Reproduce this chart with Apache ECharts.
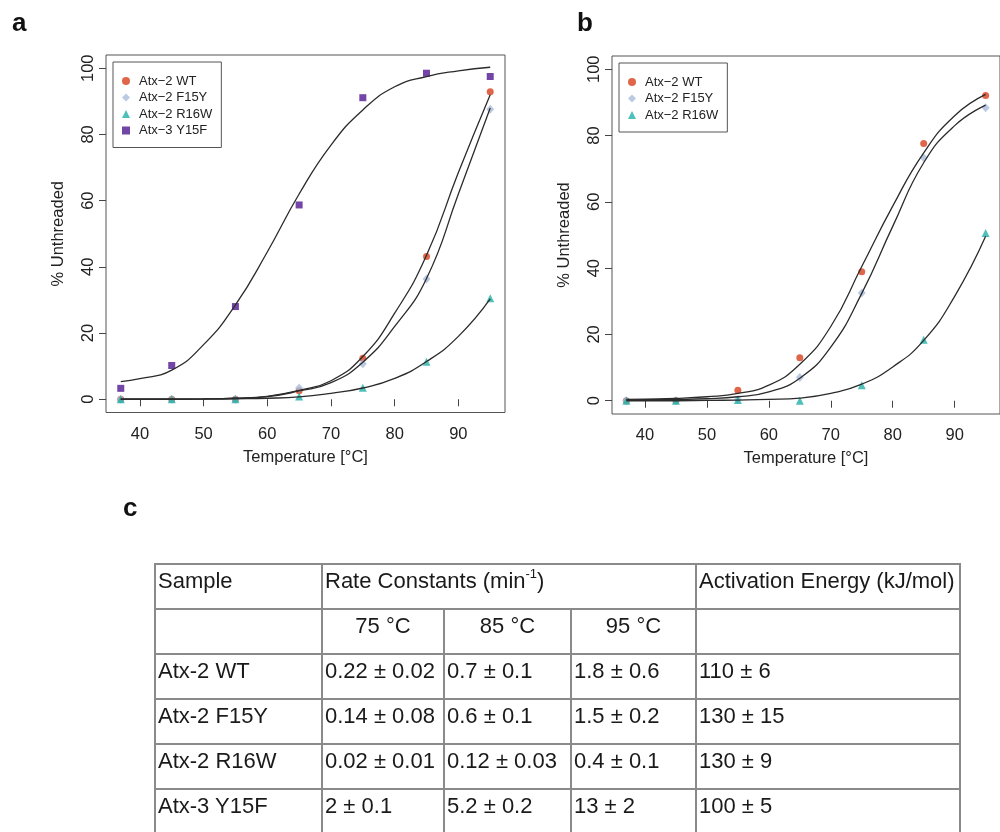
<!DOCTYPE html>
<html>
<head>
<meta charset="utf-8">
<script src="https://cdn.jsdelivr.net/npm/echarts@6/dist/echarts.min.js"></script>
<style>
  html, body { margin:0; padding:0; background:#fff; overflow:hidden; width:1000px; height:832px; }
  #chart { position:absolute; left:0; top:0; width:1000px; height:832px; }
  #tbl { position:absolute; left:154px; top:563px; border-collapse:collapse; table-layout:fixed;
         font-family:'Liberation Sans', Arial, sans-serif; font-size:22px; color:#1a1a1a; }
  #tbl td { border:2px solid #8a8a8a; height:45px; box-sizing:border-box; padding:3px 0 0 2px;
            line-height:26px; vertical-align:top; white-space:nowrap; overflow:hidden; }
  #tbl td.c { text-align:center; padding-left:0; }
  #tbl sup { font-size:13px; line-height:0; position:relative; top:-2px; }
</style>
</head>
<body>
<div id="chart"></div>
<table id="tbl"></table>
<script>
// ---------- data ----------
const temps = [37, 45, 55, 65, 75, 85, 95];
const curveTemps = [37, 40, 45, 50, 55, 60, 65, 70, 75, 80, 85, 90, 95];
const xTickLabels = [40, 50, 60, 70, 80, 90];
const yTickLabels = [0, 20, 40, 60, 80, 100];

// panel a points
const wtA   = [0, 0, 0, 2.6, 12.4, 43.1, 92.9];
const f15yA = [0, 0, 0, 3.4, 10.7, 36.3, 87.6];
const r16wA = [0, 0, 0, 0.8, 3.5, 11.3, 30.5];
const y15fA = [3.3, 10.2, 28.0, 58.7, 91.1, 98.5, 97.5];
// panel a fitted curves
const wtCurveA   = [0, 0, 0.05, 0.1, 0.3, 0.9, 2.7, 5.6, 12.9, 26.0, 43.5, 68.5, 92.0];
const f15yCurveA = [0, 0, 0.05, 0.1, 0.3, 0.8, 2.5, 5.0, 11.2, 22.0, 36.5, 62.0, 88.0];
const r16wCurveA = [0, 0, 0, 0.05, 0.15, 0.3, 0.7, 1.8, 3.4, 6.3, 11.4, 19.0, 30.3];
const y15fCurveA = [5.3, 6.2, 8.8, 16.5, 28.5, 44.5, 62.0, 76.8, 87.4, 94.4, 97.5, 99.2, 100.3];

// panel b points
const wtB   = [0, 0, 3.2, 13.0, 38.9, 77.6, 92.1];
const f15yB = [0, 0, 0.4, 7.0, 32.5, 73.3, 88.4];
const r16wB = [0, 0, 0.2, 0, 4.7, 18.4, 50.6];
// panel b fitted curves
const wtCurveB   = [0.4, 0.5, 0.7, 1.2, 2.2, 4.7, 11.0, 22.4, 40.5, 58.7, 74.8, 86.0, 92.4];
const f15yCurveB = [0.2, 0.3, 0.4, 0.6, 1.2, 2.7, 6.8, 16.2, 32.4, 52.6, 71.8, 83.0, 89.2];
const r16wCurveB = [0, 0, 0, 0.1, 0.2, 0.4, 0.8, 2.2, 5.0, 10.2, 18.2, 31.5, 49.6];

const seriesNames = ['Atx\u22122 WT', 'Atx\u22122 F15Y', 'Atx\u22122 R16W', 'Atx\u22123 Y15F'];

// table
const tableSamples = ['Atx-2 WT', 'Atx-2 F15Y', 'Atx-2 R16W', 'Atx-3 Y15F'];
const rate75 = ['0.22 ± 0.02', '0.14 ± 0.08', '0.02 ± 0.01', '2 ± 0.1'];
const rate85 = ['0.7 ± 0.1', '0.6 ± 0.1', '0.12 ± 0.03', '5.2 ± 0.2'];
const rate95 = ['1.8 ± 0.6', '1.5 ± 0.2', '0.4 ± 0.1', '13 ± 2'];
const activation = ['110 ± 6', '130 ± 15', '130 ± 9', '100 ± 5'];
const tempHeaders = ['75 °C', '85 °C', '95 °C'];

// ---------- styles ----------
const FONT = "'Liberation Sans', Arial, Helvetica, sans-serif";
const colors = { wt: '#d8401c', f15y: '#a9bddc', r16w: '#22b0a8', y15f: '#4f1690' };
const symbols = {
  wt:   { symbol: 'circle', size: 7 },
  f15y: { symbol: 'diamond', size: [8, 9] },
  r16w: { symbol: 'triangle', size: 8 },
  y15f: { symbol: 'rect', size: 7 }
};

function pairs(xs, ys) { return xs.map((x, i) => [x, ys[i]]); }

function xAxis(gi) {
  return {
    type: 'value', gridIndex: gi, min: 34.68, max: 97.32,
    name: 'Temperature [°C]', nameLocation: 'middle', nameGap: 36,
    nameTextStyle: { fontFamily: FONT, fontSize: 16.5, color: '#222' },
    axisLine: { show: false },
    splitLine: { show: false },
    axisTick: { show: true, length: 7, inside: false, customValues: xTickLabels,
                lineStyle: { color: '#444', width: 1 } },
    axisLabel: { customValues: xTickLabels, margin: 13, fontFamily: FONT, fontSize: 16.5, color: '#222' }
  };
}
function yAxis(gi) {
  return {
    type: 'value', gridIndex: gi, min: -4, max: 104,
    name: '% Unthreaded', nameLocation: 'middle', nameGap: 39,
    nameTextStyle: { fontFamily: FONT, fontSize: 16.5, color: '#222' },
    axisLine: { show: false },
    splitLine: { show: false },
    axisTick: { show: true, length: 7, customValues: yTickLabels, lineStyle: { color: '#444', width: 1 } },
    axisLabel: { customValues: yTickLabels, rotate: 90, margin: 9, fontFamily: FONT, fontSize: 16.5, color: '#222' }
  };
}

function scatter(name, key, gi, ys) {
  return {
    type: 'scatter', name: name, xAxisIndex: gi, yAxisIndex: gi,
    symbol: symbols[key].symbol, symbolSize: symbols[key].size,
    itemStyle: { color: colors[key] }, z: 3,
    data: pairs(temps, ys)
  };
}
function curve(gi, ys) {
  return {
    type: 'line', xAxisIndex: gi, yAxisIndex: gi, showSymbol: false, silent: true,
    smooth: 0.5,
    lineStyle: { color: '#2b2b2b', width: 1.3 }, z: 4,
    data: pairs(curveTemps, ys)
  };
}

function legend(left, top, names) {
  return {
    left: left, top: top, orient: 'vertical', data: names,
    itemWidth: 8, itemHeight: 8, itemGap: 2.5,
    padding: [12, 9, 10, 9],
    borderColor: '#555', borderWidth: 1, borderRadius: 0,
    textStyle: { fontFamily: FONT, fontSize: 13, color: '#222', lineHeight: 14, padding: [0, 0, 0, 4] },
    selectedMode: false
  };
}

const chart = echarts.init(document.getElementById('chart'), null, { renderer: 'canvas' });
chart.setOption({
  animation: false,
  backgroundColor: '#fff',
  grid: [
    { left: 106, top: 55, width: 399, height: 357.5, show: true, borderColor: '#555', borderWidth: 1, backgroundColor: 'transparent' },
    { left: 612, top: 56, width: 399, height: 358, show: true, borderColor: '#555', borderWidth: 1, backgroundColor: 'transparent' }
  ],
  xAxis: [xAxis(0), xAxis(1)],
  yAxis: [yAxis(0), yAxis(1)],
  legend: [
    legend(113, 62, seriesNames.slice(0, 4)),
    legend(619, 63, seriesNames.slice(0, 3))
  ],
  graphic: [
    { type: 'text', x: 12, y: 24, style: { text: 'a', fontFamily: FONT, fontSize: 26, fontWeight: 'bold', fill: '#111', verticalAlign: 'middle' } },
    { type: 'text', x: 577, y: 24, style: { text: 'b', fontFamily: FONT, fontSize: 26, fontWeight: 'bold', fill: '#111', verticalAlign: 'middle' } },
    { type: 'text', x: 123, y: 509, style: { text: 'c', fontFamily: FONT, fontSize: 26, fontWeight: 'bold', fill: '#111', verticalAlign: 'middle' } }
  ],
  series: [
    scatter(seriesNames[0], 'wt', 0, wtA),
    scatter(seriesNames[1], 'f15y', 0, f15yA),
    scatter(seriesNames[2], 'r16w', 0, r16wA),
    scatter(seriesNames[3], 'y15f', 0, y15fA),
    curve(0, wtCurveA), curve(0, f15yCurveA), curve(0, r16wCurveA), curve(0, y15fCurveA),
    scatter(seriesNames[0], 'wt', 1, wtB),
    scatter(seriesNames[1], 'f15y', 1, f15yB),
    scatter(seriesNames[2], 'r16w', 1, r16wB),
    curve(1, wtCurveB), curve(1, f15yCurveB), curve(1, r16wCurveB)
  ]
});

// ---------- table ----------
const colWidths = [167, 122, 127, 125, 264];
let html = '<colgroup>' + colWidths.map(w => '<col style="width:' + w + 'px">').join('') + '</colgroup>';
html += '<tr><td>Sample</td><td colspan="3">Rate Constants (min<sup>-1</sup>)</td><td>Activation Energy (kJ/mol)</td></tr>';
html += '<tr><td></td>' + tempHeaders.map(t => '<td class="c">' + t + '</td>').join('') + '<td></td></tr>';
tableSamples.forEach((s, i) => {
  html += '<tr><td>' + s + '</td><td>' + rate75[i] + '</td><td>' + rate85[i] + '</td><td>' + rate95[i] + '</td><td>' + activation[i] + '</td></tr>';
});
const tbl = document.getElementById('tbl');
tbl.innerHTML = html;
tbl.style.width = colWidths.reduce((a, b) => a + b, 0) + 'px';
</script>
</body>
</html>
